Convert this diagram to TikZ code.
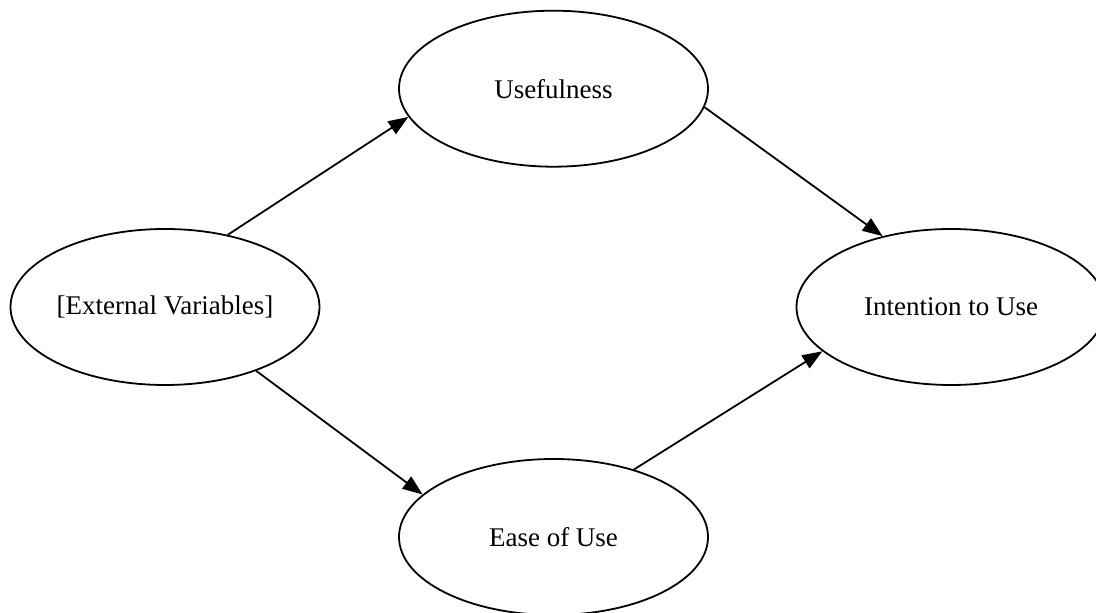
\documentclass[tikz,border=0pt]{standalone}
\usepackage{fontspec}
\setmainfont{Liberation Serif}
\usetikzlibrary{shapes.geometric,arrows.meta}
\newcommand{\ovaltext}[1]{\raisebox{-3pt}{#1}}
\begin{document}
\begin{tikzpicture}[x=1pt,y=1pt,
  oval/.style={draw=black, line width=1.8pt, ellipse, minimum width=309pt, minimum height=156pt, inner sep=0pt, font=\fontsize{27}{30}\selectfont},
  link/.style={draw=black, line width=1.8pt, -{Triangle[length=20pt,width=15pt]}}]
\useasboundingbox (0,0) rectangle (1096,613);
\node[oval] (U) at (553.5,524.3) {\ovaltext{Usefulness}};
\node[oval] (E) at (165,306) {\ovaltext{[External Variables]}};
\node[oval] (I) at (951,306) {\ovaltext{Intention to Use}};
\node[oval] (A) at (553.5,76) {\ovaltext{Ease of Use}};
\draw[link] (E.49.7) -- (U.191.9);
\draw[link] (U.-7.9) -- (I.134.6);
\draw[link] (E.-35.2) -- (A.162.6);
\draw[link] (A.40) -- (I.199.5);
\end{tikzpicture}
\end{document}
